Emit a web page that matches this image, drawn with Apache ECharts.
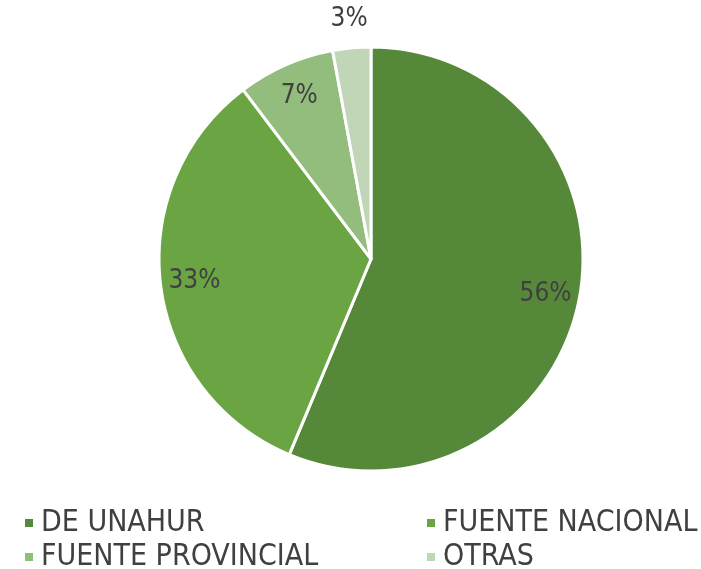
<!DOCTYPE html>
<html>
<head>
<meta charset="utf-8">
<script src="https://cdn.jsdelivr.net/npm/echarts@6/dist/echarts.min.js"></script>
<style>
  html, body { margin: 0; padding: 0; background: #fff; }
  #main { width: 701px; height: 569px; }
</style>
</head>
<body>
<div id="main"></div>
<script>
var categories = ['DE UNAHUR', 'FUENTE NACIONAL', 'FUENTE PROVINCIAL', 'OTRAS'];
var values = [56.3, 33.4, 7.4, 2.9];
var colors = ['#558939', '#6aa443', '#93bd7c', '#c0d6b6'];

var myChart = echarts.init(document.getElementById('main'));

var fontFam = 'DejaVu Sans Condensed, Roboto, sans-serif';
var center = [371, 259];

function pieData(showIdx, transparent) {
    return categories.map(function (name, i) {
        return {
            name: name,
            value: values[i],
            itemStyle: { color: transparent ? 'rgba(0,0,0,0)' : colors[i] },
            label: { show: showIdx.indexOf(i) >= 0 }
        };
    });
}

var labelStyle = {
    position: 'inside',
    formatter: function (p) { return Math.round(p.percent) + '%'; },
    color: '#404040',
    fontSize: 26,
    fontFamily: fontFam
};

var legendText = { fontSize: 30, color: '#404040', fontFamily: fontFam, padding: [0, 0, 0, 2] };

var option = {
    color: colors,
    legend: [
        {
            data: [categories[0], categories[2]],
            orient: 'vertical',
            left: 18, top: 503, height: 80,
            itemWidth: 10, itemHeight: 10, itemGap: 4,
            icon: 'rect',
            textStyle: legendText
        },
        {
            data: [categories[1], categories[3]],
            orient: 'vertical',
            left: 420, top: 503, height: 80,
            itemWidth: 10, itemHeight: 10, itemGap: 4,
            icon: 'rect',
            textStyle: legendText
        }
    ],
    series: [
        {
            name: 'main',
            type: 'pie',
            center: center,
            radius: [0, 212],
            startAngle: 90,
            clockwise: true,
            animation: false,
            silent: true,
            itemStyle: { borderColor: '#fff', borderWidth: 3 },
            label: { show: false },
            labelLine: { show: false },
            data: pieData([], false)
        },
        {
            name: 'labelsIn',
            type: 'pie',
            center: center,
            radius: [138, 212],
            startAngle: 90,
            animation: false,
            silent: true,
            legendHoverLink: false,
            label: labelStyle,
            labelLine: { show: false },
            data: pieData([0, 1, 2], true)
        },
        {
            name: 'labelsOut',
            type: 'pie',
            center: center,
            radius: [226, 250],
            startAngle: 90,
            animation: false,
            silent: true,
            legendHoverLink: false,
            label: labelStyle,
            labelLine: { show: false },
            data: pieData([3], true)
        }
    ]
};

myChart.setOption(option);
</script>
</body>
</html>
